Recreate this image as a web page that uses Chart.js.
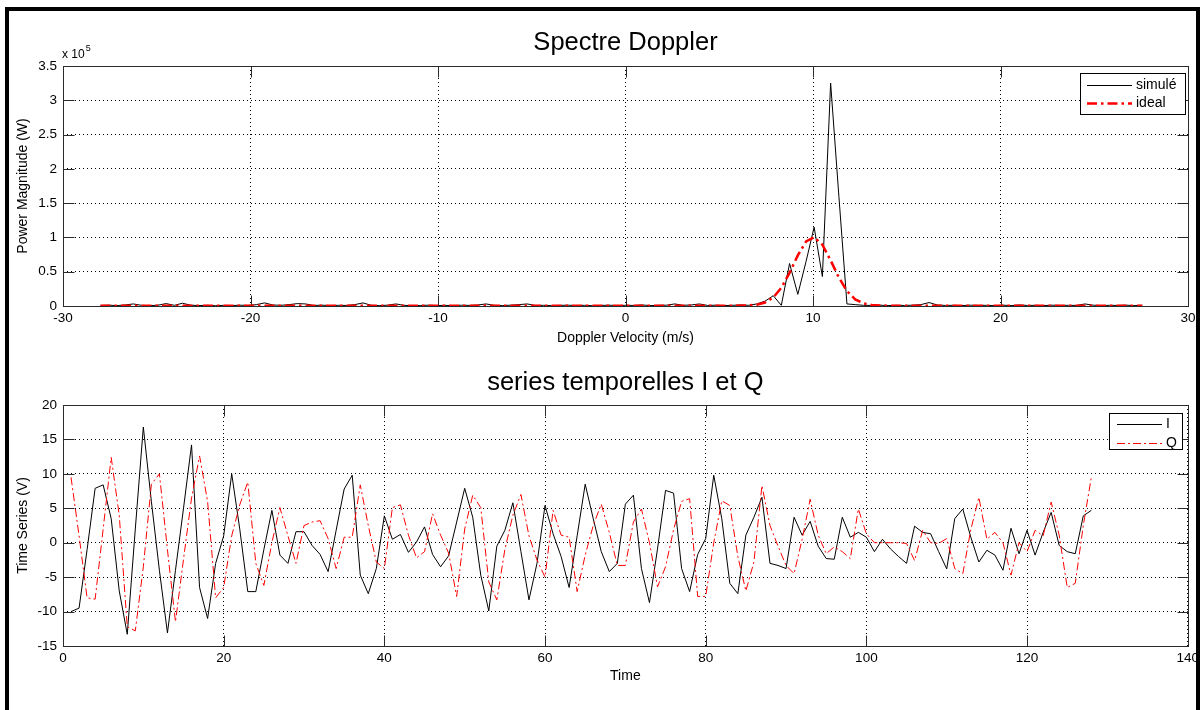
<!DOCTYPE html>
<html>
<head>
<meta charset="utf-8">
<script src="https://cdn.jsdelivr.net/npm/chart.js@4.4.1/dist/chart.umd.min.js"></script>
<style>
  html, body { margin:0; padding:0; background:#fff; width:1203px; height:710px; overflow:hidden; }
  #frame { position:absolute; left:5px; top:7px; width:1187px; height:720px; border:4px solid #000; border-bottom:none; box-sizing:content-box; }
  canvas { position:absolute; left:0; }
  #c1 { top:0; }
  #c2 { top:355px; }
</style>
</head>
<body>
<div id="frame"></div>
<canvas id="c1" width="1203" height="355"></canvas>
<canvas id="c2" width="1203" height="355"></canvas>
<script>
// ---------- Spectre Doppler ----------
const velocity = [
 -28, -27.56, -27.13, -26.69, -26.25, -25.81, -25.38, -24.94, -24.5, -24.06,
 -23.63, -23.19, -22.75, -22.31, -21.88, -21.44, -21, -20.56, -20.13, -19.69,
 -19.25, -18.81, -18.38, -17.94, -17.5, -17.06, -16.63, -16.19, -15.75, -15.31,
 -14.88, -14.44, -14, -13.56, -13.13, -12.69, -12.25, -11.81, -11.38, -10.94,
 -10.5, -10.06, -9.63, -9.19, -8.75, -8.31, -7.88, -7.44, -7, -6.56,
 -6.13, -5.69, -5.25, -4.81, -4.38, -3.94, -3.5, -3.06, -2.63, -2.19,
 -1.75, -1.31, -0.88, -0.44,
 0, 0.44, 0.88, 1.31, 1.75, 2.19, 2.63, 3.06, 3.5, 3.94,
 4.38, 4.81, 5.25, 5.69, 6.13, 6.56, 7, 7.44, 7.88, 8.31,
 8.75, 9.19, 9.63, 10.06, 10.5, 10.94, 11.38, 11.81, 12.25, 12.69,
 13.13, 13.56, 14, 14.44, 14.88, 15.31, 15.75, 16.19, 16.63, 17.06,
 17.5, 17.94, 18.38, 18.81, 19.25, 19.69, 20.13, 20.56, 21, 21.44,
 21.88, 22.31, 22.75, 23.19, 23.63, 24.06, 24.5, 24.94, 25.38, 25.81,
 26.25, 26.69, 27.13, 27.56
];
// power in units of 1e5 W
const simule = [
 0.008, 0.012, 0.006, 0.015, 0.03, 0.01, 0.005, 0.012, 0.035, 0.01,
 0.04, 0.012, 0.006, 0.01, 0.004, 0.009, 0.006, 0.012, 0.008, 0.02,
 0.045, 0.015, 0.01, 0.02, 0.035, 0.03, 0.008, 0.012, 0.006, 0.01,
 0.008, 0.02, 0.045, 0.01, 0.006, 0.012, 0.03, 0.01, 0.005, 0.008,
 0.012, 0.006, 0.01, 0.004, 0.012, 0.008, 0.015, 0.03, 0.01, 0.006,
 0.012, 0.02, 0.03, 0.008, 0.01, 0.005, 0.009, 0.012, 0.006, 0.01,
 0.004, 0.008, 0.012, 0.006,
 0.01, 0.008, 0.015, 0.006, 0.01, 0.012, 0.03, 0.01, 0.015, 0.03,
 0.008, 0.012, 0.006, 0.01, 0.015, 0.01, 0.03, 0.07, 0.15, 0.01,
 0.62, 0.17, 0.65, 1.15, 0.43, 3.25, 1.6, 0.03, 0.02, 0.01,
 0.008, 0.012, 0.006, 0.01, 0.008, 0.012, 0.02, 0.05, 0.015, 0.008,
 0.01, 0.006, 0.012, 0.008, 0.01, 0.005, 0.012, 0.006, 0.015, 0.008,
 0.01, 0.006, 0.012, 0.008, 0.01, 0.008, 0.03, 0.012, 0.006, 0.01,
 0.008, 0.012, 0.006, 0.01
];
const ideal = [
 0.005, 0.005, 0.005, 0.005, 0.005, 0.005, 0.005, 0.005, 0.005, 0.005,
 0.005, 0.005, 0.005, 0.005, 0.005, 0.005, 0.005, 0.005, 0.005, 0.005,
 0.005, 0.005, 0.005, 0.005, 0.005, 0.005, 0.005, 0.005, 0.005, 0.005,
 0.005, 0.005, 0.005, 0.005, 0.005, 0.005, 0.005, 0.005, 0.005, 0.005,
 0.005, 0.005, 0.005, 0.005, 0.005, 0.005, 0.005, 0.005, 0.005, 0.005,
 0.005, 0.005, 0.005, 0.005, 0.005, 0.005, 0.005, 0.005, 0.005, 0.005,
 0.005, 0.005, 0.005, 0.005,
 0.005, 0.005, 0.005, 0.005, 0.005, 0.005, 0.005, 0.005, 0.005, 0.005,
 0.005, 0.005, 0.005, 0.005, 0.006, 0.009, 0.019, 0.05, 0.124, 0.266,
 0.484, 0.738, 0.941, 1.003, 0.894, 0.666, 0.415, 0.218, 0.097, 0.038,
 0.015, 0.008, 0.005, 0.005, 0.005, 0.005, 0.005, 0.005, 0.005, 0.005,
 0.005, 0.005, 0.005, 0.005, 0.005, 0.005, 0.005, 0.005, 0.005, 0.005,
 0.005, 0.005, 0.005, 0.005, 0.005, 0.005, 0.005, 0.005, 0.005, 0.005,
 0.005, 0.005, 0.005, 0.005
];
const velocityTicks = { min: -30, max: 30, step: 10 };
const powerTicks = { min: 0, max: 3.5, step: 0.5 };

// ---------- séries temporelles ----------
const time = [
 1,2,3,4,5,6,7,8,9,10,11,12,13,14,15,16,17,18,19,20,
 21,22,23,24,25,26,27,28,29,30,31,32,33,34,35,36,37,38,39,40,
 41,42,43,44,45,46,47,48,49,50,51,52,53,54,55,56,57,58,59,60,
 61,62,63,64,65,66,67,68,69,70,71,72,73,74,75,76,77,78,79,80,
 81,82,83,84,85,86,87,88,89,90,91,92,93,94,95,96,97,98,99,100,
 101,102,103,104,105,106,107,108,109,110,111,112,113,114,115,116,117,118,119,120,
 121,122,123,124,125,126,127,128
];
const seriesI = [
 -10, -9.5, -1, 7.9, 8.4, 3.5, -7, -13.3, 2, 16.8,
 6, -4, -13.1, -4, 5, 14.2, -6.5, -11, -3, 1,
 10, 2, -7.1, -7.1, -1, 4.7, -1.8, -3, 1.6, 1.6,
 -0.4, -1.7, -4.2, 1.8, 7.8, 9.8, -4.7, -7.4, -3.75, 3.9,
 0.5, 1.2, -1.4, 0.1, 2.3, -1.7, -3.5, -1.9, 3, 7.9,
 3.7, -4.7, -9.9, -0.5, 1.8, 5.8, -1.3, -8.3, -3, 5.4,
 1.3, -2, -6.5, 1, 8.5, 3.5, -1.3, -4.2, -3, 5.6,
 6.9, -3.75, -8.7, -0.9, 7.6, 7.2, -3.75, -7.1, -1.7, 0.6,
 9.8, 3.5, -5.9, -7.4, 1.1, 3.7, 6.6, -3, -3.3, -3.75,
 3.7, 1.1, 3.1, -0.5, -2.3, -2.4, 3.7, 0.8, 1.5, 0.8,
 -1.3, 0.5, -0.9, -2, -3, 2.4, 1.5, 1.3, -1.3, -3.8,
 3.5, 4.9, 0.8, -2.8, -1.1, -1.8, -4, 2.1, -1.6, 1.8,
 -1.8, 1.5, 4.4, -0.4, -1.3, -1.6, 3.9, 4.7
];
const seriesQ = [
 9.5, 1, -8, -8.2, 2, 12.4, 4, -12.2, -12.8, -3.5,
 8.5, 10, -1, -11.5, -2.4, 6.5, 12.6, 6, -8, -6.5,
 1, 5.5, 8.8, -3, -6.2, 0, 5.1, 1, -3, 2.5,
 3, 3.2, 0.6, -3.75, 0.8, 0.8, 8.4, 2.5, -2.8, -3.75,
 5.1, 5.5, 1.1, -2.2, -1.3, 4.2, 1.1, -1.5, -7.8, 2,
 6.9, 5.1, -5.7, -8.3, -1, 4, 7, 1, -2.5, -5,
 4.7, 1.1, 0.8, -7.1, -1.8, 2.5, 5.6, 1.5, -3.3, -3.3,
 3, 4.9, 0, -6.4, -3.5, 1.9, 6, 6.4, -7.8, -7.8,
 0, 6.1, 5.4, -2, -7, -2.8, 8.3, 2.5, -0.5, -3.3,
 -4.5, 0.5, 6.3, 1.1, -1.6, -0.6, -1.3, -2.3, 4.9, 1.3,
 0, 0, 0, 0, -0.1, -2.6, 1.8, 0, -0.1, 0.6,
 -3.75, -4.5, 1.9, 6.6, 0.5, 1.5, 0, -4.7, 0, -1.3,
 1.8, 1, 5.9, 1.1, -6.5, -5.9, 2.5, 9.5
];
const timeTicks = { min: 0, max: 140, step: 20 };
const voltTicks = { min: -15, max: 20, step: 5 };

// ---------- helpers ----------
const FONT = '"Liberation Sans", Arial, Helvetica, sans-serif';
const fmt = v => String(+(+v).toFixed(2));
const pts = (xs, ys) => xs.map((x, i) => ({ x: x, y: ys[i] }));

const framePlugin = {
  id: 'matFrame',
  beforeDatasetsDraw(chart, args, o) {
    const { ctx, chartArea: a } = chart;
    const L = Math.round(a.left) + 0.5, R = Math.round(a.right) + 0.5;
    const T = Math.round(a.top) + 0.5, B = Math.round(a.bottom) + 0.5;
    ctx.save();
    ctx.strokeStyle = o.color; ctx.lineWidth = 1; ctx.setLineDash([]);
    ctx.beginPath();
    chart.scales.x.ticks.forEach(t => {
      const p = Math.round(chart.scales.x.getPixelForValue(t.value)) + 0.5;
      ctx.moveTo(p, B); ctx.lineTo(p, B - o.len);
      ctx.moveTo(p, T); ctx.lineTo(p, T + o.len);
    });
    chart.scales.y.ticks.forEach(t => {
      const p = Math.round(chart.scales.y.getPixelForValue(t.value)) + 0.5;
      ctx.moveTo(L, p); ctx.lineTo(L + o.len, p);
      ctx.moveTo(R, p); ctx.lineTo(R - o.len, p);
    });
    ctx.stroke();
    ctx.strokeRect(L, T, R - L, B - T);
    if (o.multiplier) {
      ctx.fillStyle = '#000';
      ctx.textBaseline = 'alphabetic';
      ctx.font = '12px ' + FONT;
      ctx.fillText(o.multiplier.base, a.left - 1, a.top - 8);
      const w = ctx.measureText(o.multiplier.base).width;
      ctx.font = '9px ' + FONT;
      ctx.fillText(o.multiplier.exp, a.left - 1 + w + 1, a.top - 15);
    }
    ctx.restore();
  }
};

const legendPlugin = {
  id: 'boxLegend',
  afterDraw(chart, args, o) {
    const { ctx, chartArea: a } = chart;
    const x = Math.round(a.right - o.offsetRight - o.width);
    const y = Math.round(a.top + o.offsetTop);
    ctx.save();
    ctx.fillStyle = '#fff';
    ctx.fillRect(x, y, o.width, o.height);
    ctx.strokeStyle = '#000'; ctx.lineWidth = 1; ctx.setLineDash([]);
    ctx.strokeRect(x + 0.5, y + 0.5, o.width, o.height);
    chart.data.datasets.forEach((ds, k) => {
      const ly = Math.round(y + o.firstRow + k * o.rowGap) + 0.5;
      ctx.strokeStyle = ds.borderColor;
      ctx.lineWidth = ds.borderWidth;
      ctx.setLineDash(ds.borderDash || []);
      ctx.beginPath(); ctx.moveTo(x + o.lineX0, ly); ctx.lineTo(x + o.lineX1, ly); ctx.stroke();
      ctx.setLineDash([]);
      ctx.fillStyle = '#000';
      ctx.font = '14px ' + FONT;
      ctx.textBaseline = 'middle';
      ctx.fillText(ds.label, x + o.textX, ly);
    });
    ctx.restore();
  }
};

function axisCommon(t, titleText, titlePad, isY, fixedSize, tickPad) {
  return {
    type: 'linear',
    min: t.min, max: t.max,
    ticks: {
      stepSize: t.step, autoSkip: false, maxRotation: 0,
      color: '#000', font: { family: FONT, size: 13.5 },
      padding: tickPad, callback: v => fmt(v)
    },
    grid: { color: '#000', lineWidth: 1, drawTicks: false },
    border: { display: false, dash: [1, 3] },
    title: { display: true, text: titleText, color: '#000', font: { family: FONT, size: 14 }, padding: titlePad },
    afterFit: s => { if (isY) s.width = fixedSize; else s.height = fixedSize; }
  };
}

function makeChart(id, cfg) {
  return new Chart(document.getElementById(id), {
    type: 'line',
    data: { datasets: cfg.datasets },
    options: {
      responsive: false, animation: false, devicePixelRatio: 1,
      layout: { padding: { left: 0, right: 15, top: 0, bottom: 0 } },
      elements: { point: { radius: 0 }, line: { tension: 0 } },
      scales: { x: cfg.x, y: cfg.y },
      plugins: {
        legend: { display: false }, tooltip: { enabled: false },
        title: { display: true, text: cfg.title, color: '#000', fullSize: false,
                 font: { family: FONT, size: 25.5, weight: 'normal' }, padding: cfg.titlePad },
        matFrame: { color: '#2a2a2a', len: 11, multiplier: cfg.multiplier },
        boxLegend: cfg.legend
      }
    },
    plugins: [framePlugin, legendPlugin]
  });
}

makeChart('c1', {
  title: 'Spectre Doppler',
  titlePad: { top: 27.7, bottom: 7.7 },
  datasets: [
    { label: 'simulé', data: pts(velocity, simule), borderColor: '#000', borderWidth: 1, order: 1 },
    { label: 'ideal', data: pts(velocity, ideal), borderColor: '#ff0000', borderWidth: 2.5, borderDash: [10, 4, 2.5, 4], order: 0 }
  ],
  x: axisCommon(velocityTicks, 'Doppler Velocity (m/s)', { top: 0, bottom: 8.6 }, false, 49, 4),
  y: axisCommon(powerTicks, 'Power Magnitude (W)', { top: 14.5, bottom: 0 }, true, 63, 6),
  multiplier: { base: 'x 10', exp: '5' },
  legend: { width: 105, height: 41, offsetRight: 3, offsetTop: 7, firstRow: 12, rowGap: 18, lineX0: 7, lineX1: 52, textX: 56 }
});

makeChart('c2', {
  title: 'series temporelles I et Q',
  titlePad: { top: 12.7, bottom: 6.7 },
  datasets: [
    { label: 'I', data: pts(time, seriesI), borderColor: '#000', borderWidth: 1, order: 1 },
    { label: 'Q', data: pts(time, seriesQ), borderColor: '#ff0000', borderWidth: 1, borderDash: [8, 3, 2, 3], order: 0 }
  ],
  x: axisCommon(timeTicks, 'Time', { top: 0, bottom: 25.6 }, false, 64, 4),
  y: axisCommon(voltTicks, 'Time Series (V)', { top: 14.5, bottom: 0 }, true, 63, 6),
  multiplier: null,
  legend: { width: 73, height: 36, offsetRight: 6, offsetTop: 8, firstRow: 11, rowGap: 19, lineX0: 8, lineX1: 53, textX: 57 }
});
</script>
</body>
</html>
